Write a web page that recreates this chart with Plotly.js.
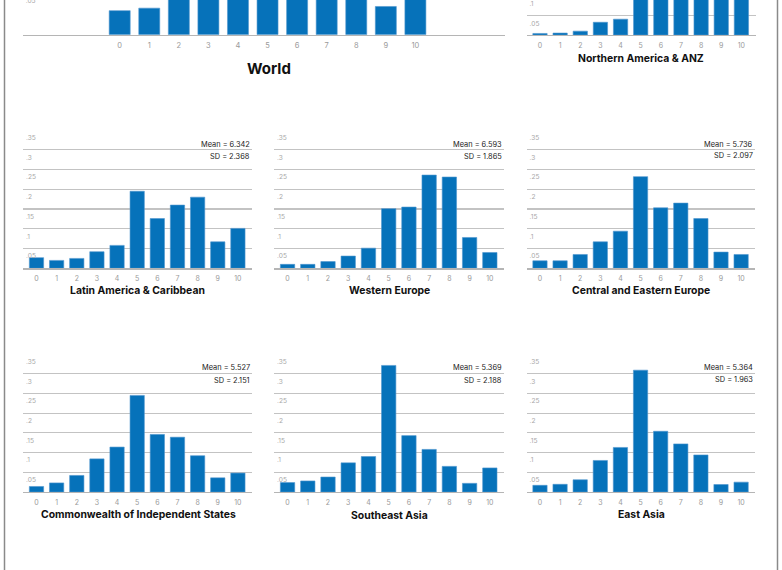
<!DOCTYPE html>
<html><head><meta charset="utf-8">
<script src="https://cdn.plot.ly/plotly-3.0.1.min.js"></script>
<style>
html,body{margin:0;padding:0;overflow:hidden;background:#fff;width:782px;height:570px;}
#chart{position:absolute;left:0;top:-8px;width:782px;height:578px;}
</style>
</head><body><div id="chart"></div>
<script>
// ---- data ----
const scores = [0, 1, 2, 3, 4, 5, 6, 7, 8, 9, 10];
const scoreLabels = ["0","1","2","3","4","5","6","7","8","9","10"];
const regionNames = ["World", "Northern America & ANZ", "Latin America & Caribbean", "Western Europe",
  "Central and Eastern Europe", "Commonwealth of Independent States", "Southeast Asia", "East Asia"];
const world          = [0.029, 0.032, 0.050, 0.085, 0.110, 0.230, 0.140, 0.120, 0.090, 0.034, 0.055];
const northAmerica   = [0.004, 0.005, 0.010, 0.033, 0.041, 0.110, 0.110, 0.200, 0.240, 0.130, 0.120];
const latinAmerica   = [0.027, 0.020, 0.025, 0.042, 0.058, 0.195, 0.126, 0.160, 0.180, 0.067, 0.101];
const westernEurope  = [0.010, 0.010, 0.017, 0.031, 0.051, 0.151, 0.155, 0.236, 0.231, 0.078, 0.040];
const centralEastEu  = [0.019, 0.019, 0.035, 0.067, 0.094, 0.232, 0.153, 0.165, 0.126, 0.041, 0.035];
const commonwealth   = [0.014, 0.023, 0.042, 0.084, 0.114, 0.245, 0.146, 0.139, 0.092, 0.036, 0.048];
const southeastAsia  = [0.024, 0.028, 0.038, 0.074, 0.090, 0.321, 0.143, 0.108, 0.065, 0.022, 0.061];
const eastAsia       = [0.017, 0.0195, 0.031, 0.080, 0.113, 0.309, 0.154, 0.122, 0.094, 0.019, 0.025];
const seriesList = [world, northAmerica, latinAmerica, westernEurope, centralEastEu, commonwealth, southeastAsia, eastAsia];
const meanText = [null, null, "6.342", "6.593", "5.736", "5.527", "5.369", "5.364"];
const sdText   = [null, null, "2.368", "1.865", "2.097", "2.151", "2.188", "1.963"];
const yTickVals = [0, 0.05, 0.1, 0.15, 0.2, 0.25, 0.3, 0.35];
const yTickText = ["", ".05", ".1", ".15", ".2", ".25", ".3", ".35"];

// ---- geometry (viewport pixels) ----
const W = 782, T = 8, H = 570 + T;
const px = v => v / W;
const py = v => 1 - (v + T) / H;
const BLUE = "#0672ba";
const FONT = "Inter, 'Open Sans', sans-serif";
const LABEL_DROP_PX = 7.5;   // y tick labels sit just below their gridline

const panels = [
  {x:[22.7,505],  y:[-8,34.7], xr:[-3.28,13.03], yr:[0,(34.7+8)/41.5*0.05], title:{x:269,y:69,size:15}, tick:7.5},
  {x:[526.5,755.5], y:[-8,35], xr:[-0.67,10.7], yr:[0,43/19.3*0.05], title:{x:641,y:58.3,size:10.4}, tick:7},
  {x:[23,252],    y:[130,268.3], xr:[-0.67,10.7], yr:[0,0.35], title:{x:137.8,y:290.7,size:10.4}, m:[145,156]},
  {x:[274,504],   y:[130,268.3], xr:[-0.67,10.7], yr:[0,0.35], title:{x:389.5,y:290.7,size:10.4}, m:[145,156.5]},
  {x:[526.5,755.2], y:[130,268.3], xr:[-0.67,10.7], yr:[0,0.35], title:{x:641,y:290.7,size:10.4}, m:[144.5,155]},
  {x:[23,252],    y:[354,492], xr:[-0.67,10.7], yr:[0,0.35], title:{x:138.2,y:514.5,size:10.4}, m:[367.7,380]},
  {x:[274,504],   y:[354,492], xr:[-0.67,10.7], yr:[0,0.35], title:{x:389,y:515.5,size:10.4}, m:[367.7,380]},
  {x:[526.5,755.2], y:[354,492], xr:[-0.67,10.7], yr:[0,0.35], title:{x:641.3,y:514.5,size:10.4}, m:[367.7,379.5]}
];

const data = [];
const layout = {
  width: W, height: H, margin:{l:0,r:0,t:0,b:0},
  paper_bgcolor:"#fff", plot_bgcolor:"rgba(0,0,0,0)",
  showlegend:false, bargap:0.29,
  font:{family:FONT, color:"#999"},
  annotations:[], shapes:[]
};

panels.forEach((p, i) => {
  const n = i + 1;
  const xa = n === 1 ? "x" : "x" + n, ya = n === 1 ? "y" : "y" + n;
  data.push({
    type:"bar", x:scores, y:seriesList[i], xaxis:xa, yaxis:ya,
    marker:{color:BLUE, line:{color:"#4f95cf", width:0.6}}, hoverinfo:"skip"
  });
  layout["xaxis" + (n === 1 ? "" : n)] = {
    domain:[px(p.x[0]), px(p.x[1])], anchor:ya, range:p.xr,
    tickvals:scores, ticktext:scoreLabels, ticks:"", showgrid:false, zeroline:false,
    showline:true, linecolor:"#b5b5b5", linewidth:1.2,
    tickfont:{family:FONT, size:p.tick || 7, color:"#9a9a9a"}, ticklabelstandoff:3, fixedrange:true
  };
  // label positions: each gridline value moved down by a few pixels (converted to data units)
  const dataPerPx = (p.yr[1] - p.yr[0]) / (p.y[1] - p.y[0]);
  const labelVals = yTickVals.map(v => v - LABEL_DROP_PX * dataPerPx);
  layout["yaxis" + (n === 1 ? "" : n)] = {
    domain:[py(p.y[1]), py(p.y[0])], anchor:xa, range:p.yr,
    tickmode:"array", tickvals:labelVals, ticktext:yTickText, ticks:"", ticklabelposition:"inside",
    showgrid:false, zeroline:false, showline:false,
    minor:{tickmode:"array", tickvals:yTickVals, ticks:"", showgrid:true, gridcolor:"#c3c3c3", gridwidth:1.2},
    tickfont:{family:FONT, size:6.6, color:"#a8a8a8"}, fixedrange:true
  };
  layout.annotations.push({
    xref:"paper", yref:"paper", x:px(p.title.x), y:py(p.title.y), xanchor:"center", yanchor:"middle",
    text:"<b>" + regionNames[i] + "</b>", showarrow:false,
    font:{family:FONT, size:p.title.size, color:"#111"}
  });
  if (meanText[i]) {
    layout.annotations.push({
      xref:"paper", yref:"paper", x:px(p.x[1]), y:py(p.m[0]), xanchor:"right", yanchor:"middle",
      text:"Mean = " + meanText[i], showarrow:false, font:{family:FONT, size:7.4, color:"#222"}
    });
    layout.annotations.push({
      xref:"paper", yref:"paper", x:px(p.x[1]), y:py(p.m[1]), xanchor:"right", yanchor:"middle",
      text:"SD = " + sdText[i], showarrow:false, font:{family:FONT, size:7.4, color:"#222"}
    });
  }
});

// frame lines
layout.shapes.push({type:"line", xref:"paper", yref:"paper", x0:px(4.5), x1:px(4.5), y0:0, y1:1, line:{color:"#8a8a8a", width:1.5}});
layout.shapes.push({type:"line", xref:"paper", yref:"paper", x0:px(777.5), x1:px(777.5), y0:0, y1:1, line:{color:"#8a8a8a", width:1.5}});

Plotly.newPlot("chart", data, layout, {displayModeBar:false, staticPlot:true});
</script>
</body></html>
